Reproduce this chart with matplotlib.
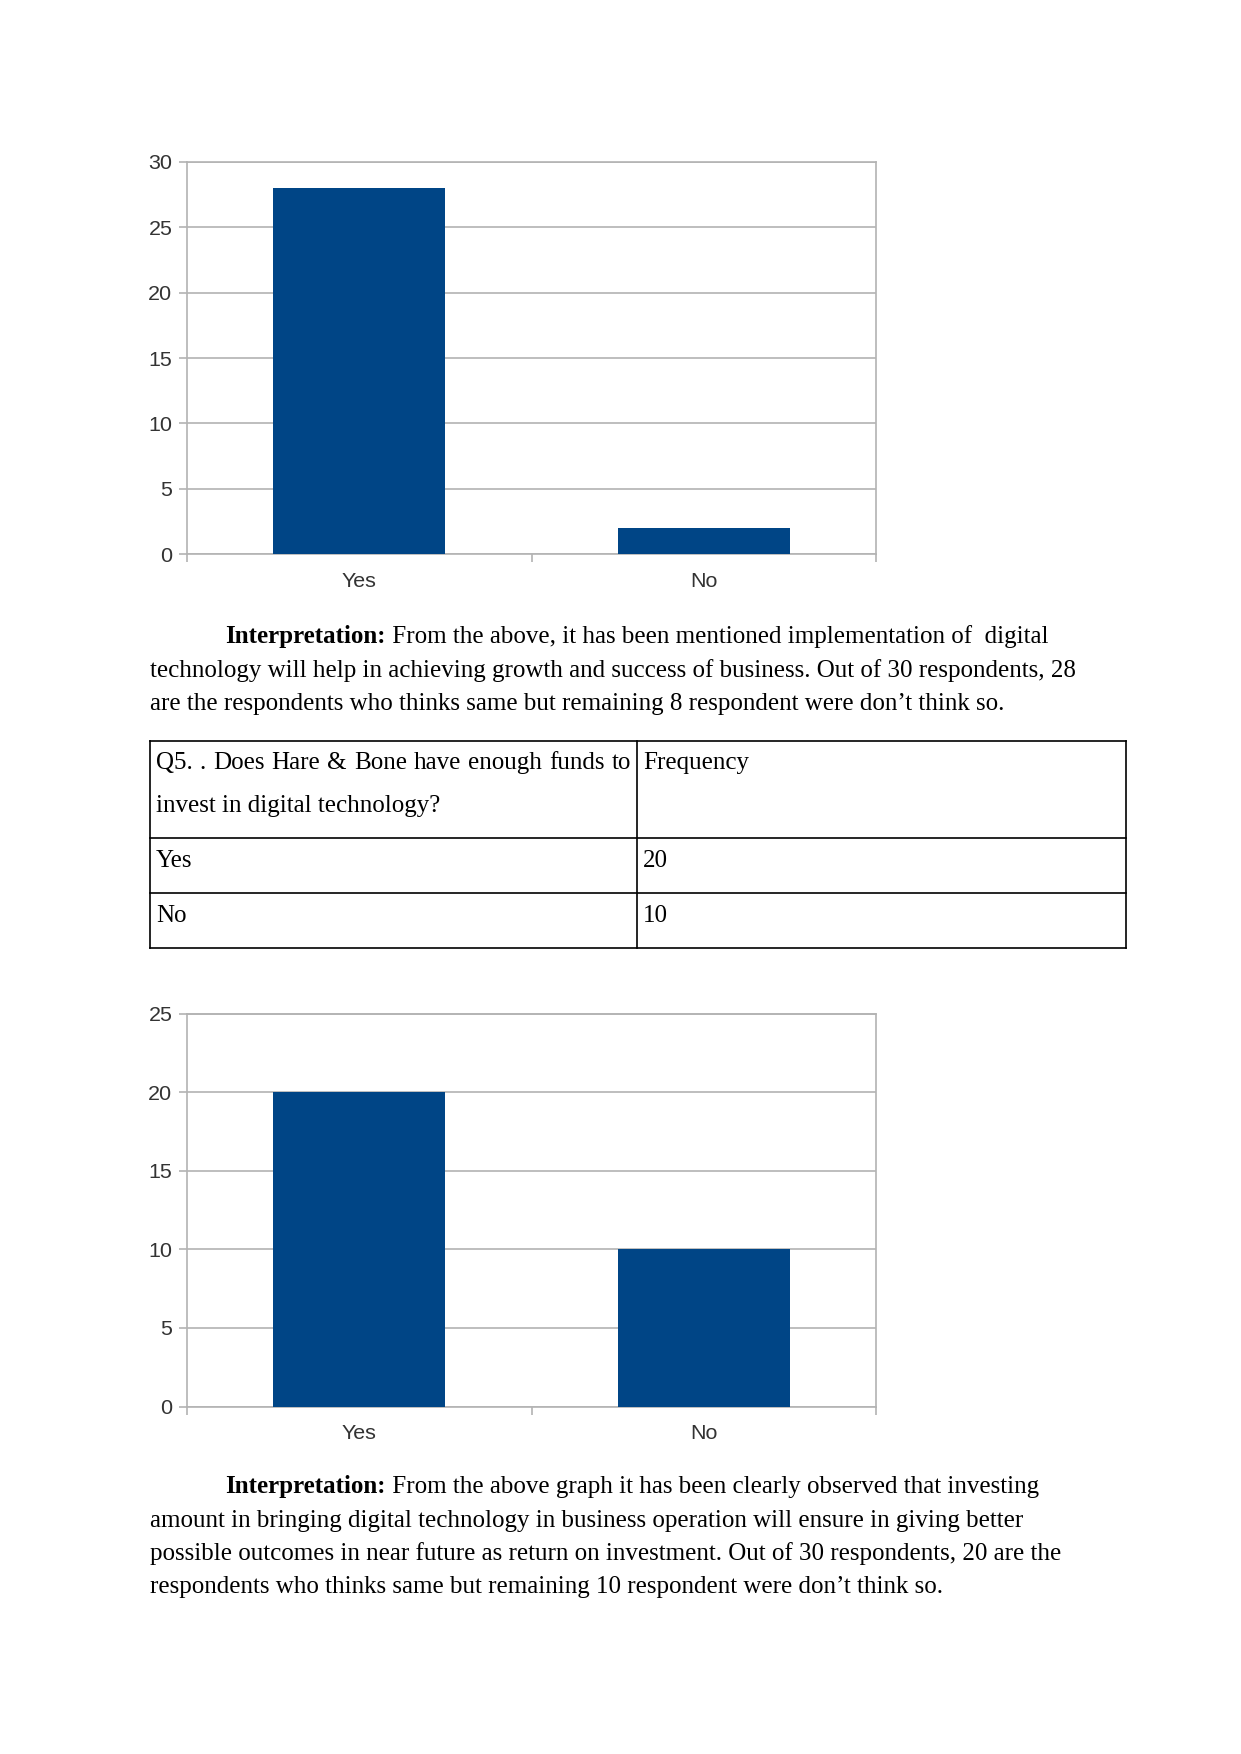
"""Survey page: two Yes/No bar charts, a frequency table and interpretation text."""

import matplotlib

matplotlib.use("Agg")
import matplotlib.pyplot as plt
from matplotlib.lines import Line2D

W, H, DPI = 1241, 1754, 150

categories = ["Yes", "No"]
growth_counts = [28, 2]
funds_counts = [20, 10]
growth_yticks = [0, 5, 10, 15, 20, 25, 30]
funds_yticks = [0, 5, 10, 15, 20, 25]

table_header = ["Q5. . Does Hare & Bone have enough funds to\ninvest in digital technology?", "Frequency"]
table_rows = [["Yes", "20"], ["No", "10"]]

para1_bold = "Interpretation:"
para1_lines = [
    " From the above, it has been mentioned implementation of  digital",
    "technology will help in achieving growth and success of business. Out of 30 respondents, 28",
    "are the respondents who thinks same but remaining 8 respondent were don\u2019t think so.",
]
para2_lines = [
    " From the above graph it has been clearly observed that investing",
    "amount in bringing digital technology in business operation will ensure in giving better",
    "possible outcomes in near future as return on investment. Out of 30 respondents, 20 are the",
    "respondents who thinks same but remaining 10 respondent were don\u2019t think so.",
]

BAR = "#004586"
GRID = "#b3b3b3"
SERIF = "Liberation Serif"
SANS = "Liberation Sans"

fig = plt.figure(figsize=(W / DPI, H / DPI), dpi=DPI)
fig.patch.set_facecolor("white")

# page-level axes in pixel coordinates for text and the table
page = fig.add_axes([0, 0, 1, 1])
page.set_xlim(0, W)
page.set_ylim(H, 0)
page.axis("off")


def bar_chart(left, top, right, bottom, values, yticks):
    ax = fig.add_axes([left / W, 1 - bottom / H, (right - left) / W, (bottom - top) / H])
    ax.bar(range(len(categories)), values, width=0.5, color=BAR, zorder=3)
    ax.set_xlim(-0.5, len(categories) - 0.5)
    ax.set_ylim(yticks[0], yticks[-1])
    ax.set_yticks(yticks)
    ax.set_xticks(range(len(categories)))
    ax.set_xticklabels(categories)
    ax.set_xticks([-0.5, 0.5, 1.5], minor=True)
    ax.grid(axis="y", color=GRID, linewidth=0.8, zorder=0)
    for spine in ax.spines.values():
        spine.set_color(GRID)
        spine.set_linewidth(0.8)
    ax.tick_params(axis="y", length=4, width=0.8, color=GRID, pad=3,
                   labelsize=10.3, labelcolor="#333333")
    ax.tick_params(axis="x", which="major", length=0, pad=8.5,
                   labelsize=10.3, labelcolor="#333333")
    ax.tick_params(axis="x", which="minor", length=4, width=0.8, color=GRID)
    for lab in ax.get_xticklabels() + ax.get_yticklabels():
        lab.set_fontfamily(SANS)
    return ax


bar_chart(187, 162, 876, 554, growth_counts, growth_yticks)
bar_chart(187, 1013.5, 876, 1406.5, funds_counts, funds_yticks)

renderer = fig.canvas.get_renderer()


def paragraph(top_baseline, lines, spacing=33.5):
    bold = page.text(225, top_baseline, para1_bold, fontfamily=SERIF, fontsize=12,
                     fontweight="bold", va="baseline", ha="left")
    ext = bold.get_window_extent(renderer=renderer)
    page.text(225 + ext.width, top_baseline, lines[0], fontfamily=SERIF, fontsize=12,
              va="baseline", ha="left")
    for i, line in enumerate(lines[1:], start=1):
        page.text(150, top_baseline + i * spacing, line, fontfamily=SERIF, fontsize=12,
                  va="baseline", ha="left")


paragraph(643, para1_lines)
paragraph(1493, para2_lines)

# table
tx = [150, 637, 1126]
ty = [741, 838, 893, 948]
for y in ty:
    page.add_line(Line2D([tx[0], tx[-1]], [y, y], color="black", linewidth=0.8))
for x in tx:
    page.add_line(Line2D([x, x], [ty[0], ty[-1]], color="black", linewidth=0.8))

header_lines = table_header[0].split("\n")
# first header line is justified across the cell in the source document
words = header_lines[0].split(" ")
word_texts = [page.text(0, 0, w, fontfamily=SERIF, fontsize=12) for w in words]
widths = [t.get_window_extent(renderer=renderer).width for t in word_texts]
gap = (631 - 156 - sum(widths)) / (len(words) - 1)
cursor = 156
for t, w in zip(word_texts, widths):
    t.set_position((cursor, 769))
    t.set_va("baseline")
    cursor += w + gap
page.text(156, 812, header_lines[1], fontfamily=SERIF, fontsize=12, va="baseline")
page.text(643, 769, table_header[1], fontfamily=SERIF, fontsize=12, va="baseline")
for r, (label, freq) in enumerate(table_rows):
    base = 867 + r * 55
    page.text(156, base, label, fontfamily=SERIF, fontsize=12, va="baseline")
    page.text(643, base, freq, fontfamily=SERIF, fontsize=12, va="baseline")

fig.savefig("out.png", dpi=DPI)
